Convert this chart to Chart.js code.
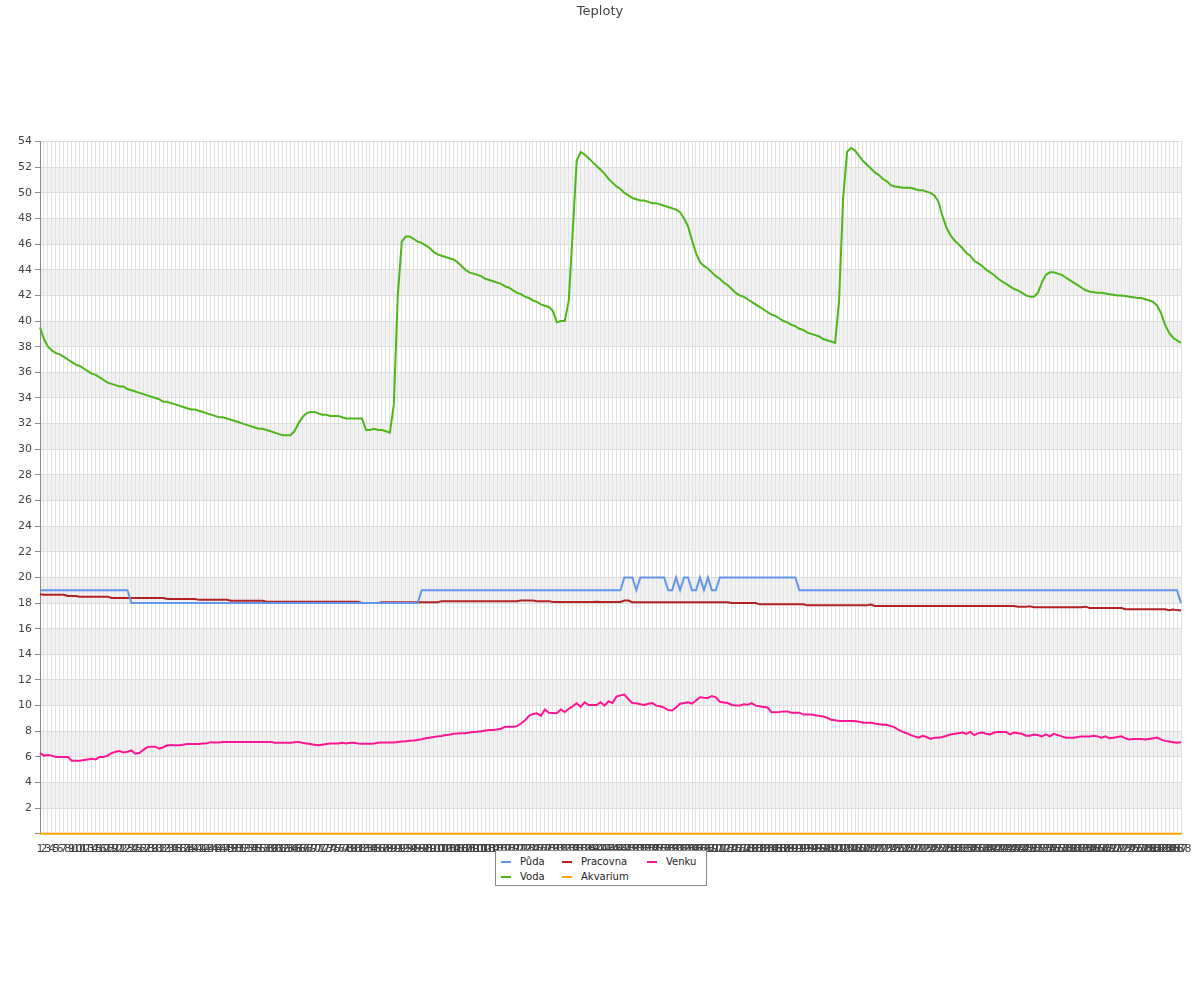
<!DOCTYPE html>
<html>
<head>
<meta charset="utf-8">
<title>Teploty</title>
<script src="https://cdn.jsdelivr.net/npm/chart.js@4.4.1/dist/chart.umd.min.js"></script>
<style>
  body { margin: 0; background: #fff; font-family: "DejaVu Sans", sans-serif; }
  #wrap { position: relative; width: 1200px; height: 1000px; }
  #legend { position: absolute; left: 495px; top: 850px; width: 212px; height: 36px; box-sizing: border-box;
    border: 1px solid #888; background: #fff; font-size: 10px; color: #222; }
  .it { position: absolute; white-space: nowrap; line-height: 12px; }
  .it i { display: inline-block; width: 10px; height: 2px; vertical-align: middle; margin-right: 9px; }
</style>
</head>
<body>
<div id="wrap">
  <canvas id="c" width="1200" height="1000"></canvas>
  <div id="legend"></div>
</div>
<script>
// 288 samples (5 min steps), categories 1..288
const labels = Array.from({ length: 288 }, (_, i) => String(i + 1));

const puda = [
  19,19,19,19,19,19,19,19,19,19,
  19,19,19,19,19,19,19,19,19,19,
  19,19,19,18,18,18,18,18,18,18,
  18,18,18,18,18,18,18,18,18,18,
  18,18,18,18,18,18,18,18,18,18,
  18,18,18,18,18,18,18,18,18,18,
  18,18,18,18,18,18,18,18,18,18,
  18,18,18,18,18,18,18,18,18,18,
  18,18,18,18,18,18,18,18,18,18,
  18,18,18,18,18,18,19,19,19,19,
  19,19,19,19,19,19,19,19,19,19,
  19,19,19,19,19,19,19,19,19,19,
  19,19,19,19,19,19,19,19,19,19,
  19,19,19,19,19,19,19,19,19,19,
  19,19,19,19,19,19,19,20,20,20,
  19,20,20,20,20,20,20,20,19,19,
  20,19,20,20,19,19,20,19,20,19,
  19,20,20,20,20,20,20,20,20,20,
  20,20,20,20,20,20,20,20,20,20,
  20,19,19,19,19,19,19,19,19,19,
  19,19,19,19,19,19,19,19,19,19,
  19,19,19,19,19,19,19,19,19,19,
  19,19,19,19,19,19,19,19,19,19,
  19,19,19,19,19,19,19,19,19,19,
  19,19,19,19,19,19,19,19,19,19,
  19,19,19,19,19,19,19,19,19,19,
  19,19,19,19,19,19,19,19,19,19,
  19,19,19,19,19,19,19,19,19,19,
  19,19,19,19,19,19,19,18
];

const voda = [
  39.5,38.6,38.0,37.7,37.5,37.4,37.2,37.0,36.8,36.6,
  36.5,36.3,36.1,35.9,35.8,35.6,35.4,35.2,35.1,35.0,
  34.9,34.9,34.7,34.6,34.5,34.4,34.3,34.2,34.1,34.0,
  33.9,33.7,33.7,33.6,33.5,33.4,33.3,33.2,33.1,33.1,
  33.0,32.9,32.8,32.7,32.6,32.5,32.5,32.4,32.3,32.2,
  32.1,32.0,31.9,31.8,31.7,31.6,31.6,31.5,31.4,31.3,
  31.2,31.1,31.1,31.1,31.4,32.0,32.5,32.8,32.9,32.9,
  32.8,32.7,32.7,32.6,32.6,32.6,32.5,32.4,32.4,32.4,
  32.4,32.4,31.5,31.5,31.6,31.5,31.5,31.4,31.3,33.5,
  42.0,46.2,46.6,46.6,46.4,46.2,46.1,45.9,45.7,45.4,
  45.2,45.1,45.0,44.9,44.8,44.6,44.3,44.0,43.8,43.7,
  43.6,43.5,43.3,43.2,43.1,43.0,42.9,42.7,42.6,42.4,
  42.2,42.1,41.9,41.8,41.6,41.5,41.3,41.2,41.1,40.8,
  39.9,40.0,40.0,41.6,47.0,52.5,53.2,53.0,52.7,52.4,
  52.1,51.8,51.5,51.1,50.8,50.5,50.3,50.0,49.8,49.6,
  49.5,49.4,49.4,49.3,49.2,49.2,49.1,49.0,48.9,48.8,
  48.7,48.5,48.0,47.4,46.3,45.3,44.6,44.3,44.1,43.8,
  43.5,43.3,43.0,42.8,42.5,42.2,42.0,41.9,41.7,41.5,
  41.3,41.1,40.9,40.7,40.5,40.4,40.2,40.0,39.9,39.7,
  39.6,39.4,39.3,39.1,39.0,38.9,38.8,38.6,38.5,38.4,
  38.3,41.6,49.5,53.2,53.5,53.3,52.9,52.5,52.2,51.9,
  51.6,51.4,51.1,50.9,50.6,50.5,50.45,50.4,50.4,50.4,
  50.3,50.2,50.2,50.1,50.0,49.8,49.3,48.2,47.3,46.7,
  46.3,46.0,45.7,45.3,45.1,44.7,44.5,44.3,44.0,43.8,
  43.6,43.3,43.1,42.9,42.7,42.5,42.4,42.2,42.0,41.9,
  41.9,42.2,43.0,43.6,43.8,43.8,43.7,43.6,43.4,43.2,
  43.0,42.8,42.6,42.4,42.3,42.25,42.2,42.2,42.15,42.1,
  42.05,42.0,42.0,41.95,41.9,41.85,41.8,41.8,41.7,41.6,
  41.5,41.2,40.6,39.7,39.1,38.7,38.5,38.3
];

const pracovna = [
  18.68,18.65,18.65,18.65,18.65,18.65,18.65,18.55,18.55,18.55,
  18.5,18.5,18.5,18.5,18.5,18.5,18.5,18.5,18.4,18.4,
  18.4,18.4,18.4,18.4,18.4,18.4,18.4,18.4,18.4,18.4,
  18.4,18.4,18.32,18.32,18.32,18.32,18.32,18.32,18.32,18.32,
  18.25,18.25,18.25,18.25,18.25,18.25,18.25,18.25,18.18,18.18,
  18.18,18.18,18.18,18.18,18.18,18.18,18.18,18.1,18.1,18.1,
  18.1,18.1,18.1,18.1,18.1,18.1,18.1,18.1,18.1,18.1,
  18.1,18.1,18.1,18.1,18.1,18.1,18.1,18.1,18.1,18.1,
  18.1,18.0,18.0,18.0,18.0,18.0,18.06,18.06,18.06,18.06,
  18.06,18.06,18.06,18.06,18.06,18.06,18.06,18.06,18.06,18.06,
  18.06,18.15,18.15,18.15,18.15,18.15,18.15,18.15,18.15,18.15,
  18.15,18.15,18.15,18.15,18.15,18.15,18.15,18.15,18.15,18.15,
  18.15,18.2,18.2,18.2,18.2,18.15,18.15,18.15,18.15,18.08,
  18.08,18.08,18.08,18.08,18.08,18.08,18.08,18.08,18.08,18.08,
  18.1,18.08,18.08,18.08,18.08,18.08,18.08,18.2,18.2,18.07,
  18.07,18.07,18.07,18.07,18.07,18.07,18.07,18.07,18.07,18.07,
  18.07,18.07,18.07,18.07,18.07,18.07,18.07,18.07,18.07,18.07,
  18.07,18.07,18.07,18.07,18.0,18.0,18.0,18.0,18.0,18.0,
  18.0,17.9,17.9,17.9,17.9,17.9,17.9,17.9,17.9,17.9,
  17.9,17.9,17.9,17.82,17.82,17.82,17.82,17.82,17.82,17.82,
  17.82,17.82,17.82,17.82,17.82,17.82,17.82,17.82,17.82,17.88,
  17.77,17.77,17.77,17.77,17.77,17.77,17.77,17.77,17.77,17.77,
  17.77,17.77,17.77,17.77,17.77,17.77,17.77,17.77,17.77,17.77,
  17.77,17.77,17.77,17.77,17.77,17.77,17.77,17.77,17.77,17.77,
  17.77,17.77,17.77,17.77,17.77,17.77,17.72,17.72,17.72,17.75,
  17.68,17.68,17.68,17.68,17.68,17.68,17.68,17.68,17.68,17.68,
  17.68,17.68,17.68,17.72,17.62,17.62,17.62,17.62,17.62,17.62,
  17.62,17.62,17.62,17.52,17.52,17.52,17.52,17.52,17.52,17.52,
  17.52,17.52,17.52,17.52,17.45,17.5,17.45,17.42
];

const akvarium = [
  0,0,0,0,0,0,0,0,0,0, 0,0,0,0,0,0,0,0,0,0, 0,0,0,0,0,0,0,0,0,0,
  0,0,0,0,0,0,0,0,0,0, 0,0,0,0,0,0,0,0,0,0, 0,0,0,0,0,0,0,0,0,0,
  0,0,0,0,0,0,0,0,0,0, 0,0,0,0,0,0,0,0,0,0, 0,0,0,0,0,0,0,0,0,0,
  0,0,0,0,0,0,0,0,0,0, 0,0,0,0,0,0,0,0,0,0, 0,0,0,0,0,0,0,0,0,0,
  0,0,0,0,0,0,0,0,0,0, 0,0,0,0,0,0,0,0,0,0, 0,0,0,0,0,0,0,0,0,0,
  0,0,0,0,0,0,0,0,0,0, 0,0,0,0,0,0,0,0,0,0, 0,0,0,0,0,0,0,0,0,0,
  0,0,0,0,0,0,0,0,0,0, 0,0,0,0,0,0,0,0,0,0, 0,0,0,0,0,0,0,0,0,0,
  0,0,0,0,0,0,0,0,0,0, 0,0,0,0,0,0,0,0,0,0, 0,0,0,0,0,0,0,0,0,0,
  0,0,0,0,0,0,0,0,0,0, 0,0,0,0,0,0,0,0,0,0, 0,0,0,0,0,0,0,0,0,0,
  0,0,0,0,0,0,0,0,0,0, 0,0,0,0,0,0,0,0
];

const venku = [
  6.3,6.1,6.15,6.1,6.0,6.0,6.0,6.0,5.7,5.7,
  5.7,5.75,5.8,5.85,5.8,6.0,6.0,6.1,6.3,6.4,
  6.45,6.35,6.4,6.5,6.25,6.3,6.55,6.75,6.8,6.8,
  6.65,6.75,6.9,6.9,6.9,6.9,6.95,7.0,7.0,7.0,
  7.0,7.05,7.07,7.15,7.12,7.12,7.17,7.17,7.17,7.17,
  7.17,7.17,7.17,7.17,7.17,7.17,7.17,7.17,7.17,7.1,
  7.1,7.1,7.1,7.1,7.15,7.17,7.1,7.05,7.0,6.95,
  6.9,6.95,7.0,7.05,7.05,7.05,7.1,7.05,7.1,7.1,
  7.05,7.03,7.03,7.03,7.05,7.1,7.12,7.12,7.12,7.13,
  7.17,7.2,7.22,7.25,7.28,7.32,7.38,7.45,7.5,7.55,
  7.6,7.63,7.7,7.73,7.8,7.82,7.85,7.85,7.9,7.95,
  7.97,8.0,8.05,8.1,8.1,8.13,8.2,8.36,8.35,8.36,
  8.4,8.6,8.85,9.2,9.35,9.4,9.2,9.7,9.45,9.42,
  9.4,9.7,9.5,9.75,9.95,10.18,9.9,10.26,10.05,10.05,
  10.05,10.26,10.0,10.34,10.2,10.7,10.8,10.86,10.5,10.2,
  10.18,10.1,10.05,10.15,10.2,10.0,9.95,9.85,9.65,9.62,
  9.85,10.15,10.2,10.26,10.15,10.4,10.65,10.62,10.6,10.75,
  10.65,10.3,10.25,10.2,10.05,10.0,10.0,10.1,10.06,10.2,
  10.0,9.95,9.9,9.85,9.48,9.48,9.5,9.55,9.55,9.45,
  9.44,9.45,9.3,9.3,9.3,9.25,9.2,9.15,9.05,8.9,
  8.85,8.8,8.8,8.8,8.8,8.8,8.75,8.67,8.67,8.67,
  8.6,8.55,8.5,8.5,8.4,8.3,8.1,7.95,7.85,7.7,
  7.6,7.5,7.65,7.55,7.4,7.5,7.5,7.55,7.65,7.75,
  7.8,7.85,7.9,7.8,7.95,7.7,7.85,7.9,7.8,7.75,
  7.9,7.95,7.95,7.95,7.75,7.9,7.85,7.8,7.65,7.65,
  7.75,7.7,7.6,7.75,7.6,7.8,7.7,7.6,7.5,7.5,
  7.5,7.55,7.6,7.6,7.6,7.65,7.6,7.5,7.6,7.45,
  7.5,7.55,7.6,7.45,7.35,7.4,7.4,7.4,7.35,7.4,
  7.45,7.5,7.35,7.25,7.2,7.15,7.1,7.15
];

const series = [
  { label: "Půda", data: puda, color: "#6495ED" },
  { label: "Voda", data: voda, color: "#4DB61B" },
  { label: "Pracovna", data: pracovna, color: "#B22222" },
  { label: "Akvarium", data: akvarium, color: "#FFA500" },
  { label: "Venku", data: venku, color: "#FF1493" },
];

Chart.defaults.font.family = "'DejaVu Sans', sans-serif";
Chart.defaults.color = "#444";

// alternating grey bands every other 2-unit step (2-4, 6-8, ... 50-52)
const bands = {
  id: "bands",
  beforeDraw(chart) {
    const { ctx, chartArea: a, scales: { y } } = chart;
    ctx.save();
    ctx.fillStyle = "#f2f2f2";
    for (let v = 2; v < 54; v += 4) {
      const top = y.getPixelForValue(v + 2), bot = y.getPixelForValue(v);
      ctx.fillRect(a.left, top, a.right - a.left, bot - top);
    }
    ctx.restore();
  },
};

new Chart(document.getElementById("c"), {
  type: "line",
  data: {
    labels,
    datasets: series.map((s) => ({
      label: s.label, data: s.data, borderColor: s.color, backgroundColor: s.color,
      borderWidth: 2, pointRadius: 0, tension: 0, fill: false, clip: 4,
    })),
  },
  options: {
    responsive: false, animation: false, events: [],
    layout: { padding: { left: 0, right: 0, top: 0, bottom: 135 } },
    plugins: {
      legend: { display: false },
      tooltip: { enabled: false },
      title: { display: true, text: "Teploty", color: "#444", font: { size: 13, weight: "normal" }, padding: { top: 4, bottom: 122 } },
    },
    scales: {
      x: {
        // keep the right margin on the axis so the title stays centred on the page
        afterFit(scale) { scale.paddingRight = 19; },
        grid: { color: "#e2e2e2", drawTicks: false },
        border: { color: "#888" },
        ticks: { autoSkip: false, maxRotation: 0, minRotation: 0, padding: 9, color: "#444", font: { size: 11 } },
      },
      y: {
        min: 0, max: 54,
        afterFit(scale) { scale.width = 40; },
        grid: {
          color: (c) => (c.tick && c.tick.value % 2 === 0 ? "#dddddd" : "rgba(0,0,0,0)"),
          tickColor: "#888", tickLength: 5,
        },
        border: { color: "#888" },
        ticks: { stepSize: 1, padding: 3, color: "#444", font: { size: 11 },
          callback: (v) => (v % 2 === 0 && v !== 0 ? String(v) : "") },
      },
    },
  },
  plugins: [bands],
});

// legend box: 3 columns, row-major as in the original
const legendPos = [[0, 0], [1, 0], [0, 1], [1, 1], [0, 2]]; // [row, col] per series
const colX = [5, 66, 151];
document.getElementById("legend").innerHTML = series.map((s, i) => {
  const [r, c] = legendPos[i];
  return `<div class="it" style="left:${colX[c]}px;top:${5 + r * 15}px"><i style="background:${s.color}"></i>${s.label}</div>`;
}).join("");
</script>
</body>
</html>
